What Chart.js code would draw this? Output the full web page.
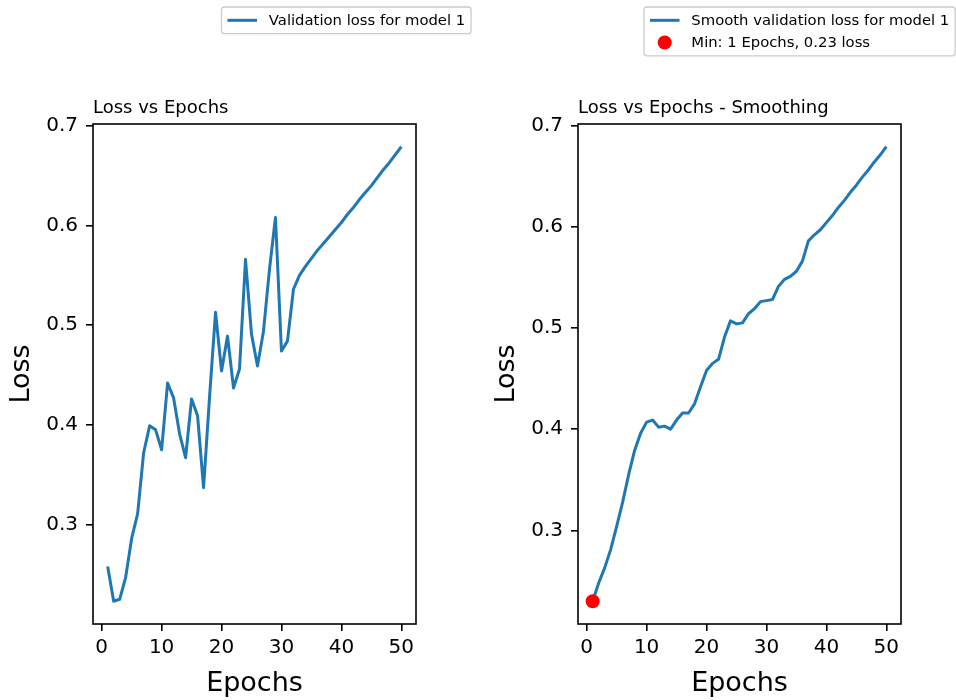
<!DOCTYPE html>
<html>
<head>
<meta charset="utf-8">
<script src="https://cdn.jsdelivr.net/npm/chart.js@4/dist/chart.umd.min.js"></script>
<style>
  html, body { margin: 0; padding: 0; background: #fff; }
  #wrap { position: relative; width: 956px; height: 700px; overflow: hidden; }
  canvas { position: absolute; top: 0; }
</style>
</head>
<body>
<div id="wrap">
  <canvas id="c1" width="478" height="700" style="left:0px"></canvas>
  <canvas id="c2" width="478" height="700" style="left:478px"></canvas>
</div>
<script>
// ---------- data ----------
const epochs = [1,2,3,4,5,6,7,8,9,10,11,12,13,14,15,16,17,18,19,20,21,22,23,24,25,
                26,27,28,29,30,31,32,33,34,35,36,37,38,39,40,41,42,43,44,45,46,47,48,49,50];
const valLoss = [0.258,0.223,0.225,0.247,0.286,0.311,0.372,0.399,0.395,0.375,
                 0.442,0.427,0.391,0.367,0.426,0.409,0.337,0.428,0.513,0.454,
                 0.489,0.437,0.456,0.566,0.491,0.459,0.494,0.556,0.608,0.474,
                 0.484,0.536,0.550,0.559,0.567,0.575,0.582,0.589,0.596,0.603,
                 0.611,0.618,0.626,0.633,0.640,0.648,0.656,0.663,0.671,0.679];
const smoothLoss = [0.230,0.248,0.263,0.281,0.304,0.328,0.355,0.379,0.396,0.407,
                    0.409,0.402,0.403,0.400,0.409,0.416,0.416,0.425,0.442,0.458,
                    0.465,0.469,0.491,0.507,0.504,0.505,0.514,0.519,0.526,0.527,
                    0.528,0.541,0.548,0.551,0.556,0.566,0.586,0.592,0.597,0.604,
                    0.611,0.619,0.626,0.634,0.641,0.649,0.656,0.664,0.671,0.679];
const minEpoch = [1];
const minLoss = [0.23];
const xTicks = [0,10,20,30,40,50];
const yTicks = [0.3,0.4,0.5,0.6,0.7];
const chartTitles = ['Loss vs Epochs', 'Loss vs Epochs - Smoothing'];
const seriesLabels = ['Validation loss for model 1', 'Smooth validation loss for model 1'];
const xLabel = 'Epochs';
const yLabel = 'Loss';

// ---------- styling ----------
const BLUE = '#1f77b4';
const RED = '#ff0000';
const FONT = "'DejaVu Sans', 'Liberation Sans', sans-serif";
Chart.defaults.font.family = FONT;
Chart.defaults.color = '#000';

function padRange(vals) {
  const lo = Math.min(...vals), hi = Math.max(...vals), m = (hi - lo) * 0.05;
  return [lo - m, hi + m];
}
const xRange = padRange(epochs);

function makeScales(yRange) {
  return {
    x: {
      type: 'linear', position: 'bottom', min: xRange[0], max: xRange[1],
      afterBuildTicks: ax => { ax.ticks = xTicks.map(v => ({ value: v })); },
      afterFit: ax => { ax.height = 76; },
      grid: { drawOnChartArea: false, drawTicks: true, tickLength: 7, color: '#000', lineWidth: 1.6 },
      border: { display: false },
      ticks: { color: '#000', font: { size: 20 }, padding: 5, maxRotation: 0, autoSkip: false,
               callback: v => String(v) },
      title: { display: true, text: xLabel, color: '#000', font: { size: 27 }, padding: { top: 0, bottom: 0 } }
    },
    y: {
      type: 'linear', position: 'left', min: yRange[0], max: yRange[1],
      afterBuildTicks: ax => { ax.ticks = yTicks.map(v => ({ value: v })); },
      afterFit: ax => { ax.width = 93; },
      grid: { drawOnChartArea: false, drawTicks: true, tickLength: 7, color: '#000', lineWidth: 1.6 },
      border: { display: false },
      ticks: { color: '#000', font: { size: 20 }, padding: 8, autoSkip: false,
               callback: v => v.toFixed(1) },
      title: { display: true, text: yLabel, color: '#000', font: { size: 27 }, padding: { top: 6, bottom: 0 } }
    }
  };
}

// frame, left-aligned title, and matplotlib-style legend
const decor = {
  id: 'decor',
  afterDraw(chart, args, opts) {
    const { ctx, chartArea: a } = chart;
    ctx.save();
    ctx.strokeStyle = '#000';
    ctx.lineWidth = 1.6;
    ctx.strokeRect(a.left, a.top, a.right - a.left, a.bottom - a.top);

    ctx.fillStyle = '#000';
    ctx.font = '18px ' + FONT;
    ctx.textAlign = 'left';
    ctx.textBaseline = 'alphabetic';
    ctx.fillText(opts.title, a.left, a.top - 11.5);

    // legend
    const fs = 14.8;
    ctx.font = fs + 'px ' + FONT;
    const items = opts.items;
    const textW = Math.max(...items.map(it => ctx.measureText(it.label).width));
    const pad = 0.4 * fs, handle = 2 * fs, gap = 0.8 * fs, spacing = 0.5 * fs;
    const w = pad + handle + gap + textW + pad;
    const h = pad * 2 + items.length * fs + (items.length - 1) * spacing;
    const x0 = opts.legendX, y0 = opts.legendY;
    ctx.beginPath();
    if (ctx.roundRect) ctx.roundRect(x0, y0, w, h, 3); else ctx.rect(x0, y0, w, h);
    ctx.fillStyle = 'rgba(255,255,255,0.8)';
    ctx.fill();
    ctx.strokeStyle = '#cccccc';
    ctx.lineWidth = 1.3;
    ctx.stroke();
    items.forEach((it, i) => {
      const cy = y0 + pad + fs / 2 + i * (fs + spacing);
      if (it.type === 'line') {
        ctx.beginPath();
        ctx.moveTo(x0 + pad, cy);
        ctx.lineTo(x0 + pad + handle, cy);
        ctx.strokeStyle = it.color;
        ctx.lineWidth = 3;
        ctx.stroke();
      } else {
        ctx.beginPath();
        ctx.arc(x0 + pad + handle / 2, cy, 7, 0, Math.PI * 2);
        ctx.fillStyle = it.color;
        ctx.fill();
      }
      ctx.fillStyle = '#000';
      ctx.textBaseline = 'middle';
      ctx.fillText(it.label, x0 + pad + handle + gap, cy + 1);
    });
    ctx.restore();
  }
};

const common = {
  responsive: false, animation: false, devicePixelRatio: 1,
  plugins: { legend: { display: false }, tooltip: { enabled: false }, title: { display: false } },
  elements: { line: { tension: 0, borderJoinStyle: 'round' } }
};

// left chart
new Chart(document.getElementById('c1'), {
  type: 'line',
  data: {
    datasets: [{
      label: seriesLabels[0],
      data: epochs.map((e, i) => ({ x: e, y: valLoss[i] })),
      borderColor: BLUE, backgroundColor: BLUE, borderWidth: 3, pointRadius: 0, fill: false
    }]
  },
  options: Object.assign({}, common, {
    layout: { padding: { left: 0, right: 62, top: 124, bottom: 0 } },
    scales: makeScales(padRange(valLoss)),
    plugins: Object.assign({}, common.plugins, {
      decor: { title: chartTitles[0], legendX: 221.5, legendY: 7,
               items: [{ type: 'line', color: BLUE, label: seriesLabels[0] }] }
    })
  }),
  plugins: [decor]
});

// right chart
const minLabel = 'Min: ' + minEpoch[0] + ' Epochs, ' + minLoss[0].toFixed(2) + ' loss';
new Chart(document.getElementById('c2'), {
  type: 'line',
  data: {
    datasets: [{
      label: seriesLabels[1],
      data: epochs.map((e, i) => ({ x: e, y: smoothLoss[i] })),
      borderColor: BLUE, backgroundColor: BLUE, borderWidth: 3, pointRadius: 0, fill: false, order: 2
    }, {
      label: minLabel,
      data: minEpoch.map((e, i) => ({ x: e, y: minLoss[i] })),
      showLine: false, pointRadius: 7, pointBorderWidth: 0,
      pointBackgroundColor: RED, borderColor: RED, backgroundColor: RED, order: 1
    }]
  },
  options: Object.assign({}, common, {
    layout: { padding: { left: 7, right: 55, top: 124, bottom: 0 } },
    scales: makeScales(padRange(smoothLoss.concat(minLoss))),
    plugins: Object.assign({}, common.plugins, {
      decor: { title: chartTitles[1], legendX: 166, legendY: 7,
               items: [{ type: 'line', color: BLUE, label: seriesLabels[1] },
                       { type: 'dot', color: RED, label: minLabel }] }
    })
  }),
  plugins: [decor]
});
</script>
</body>
</html>
